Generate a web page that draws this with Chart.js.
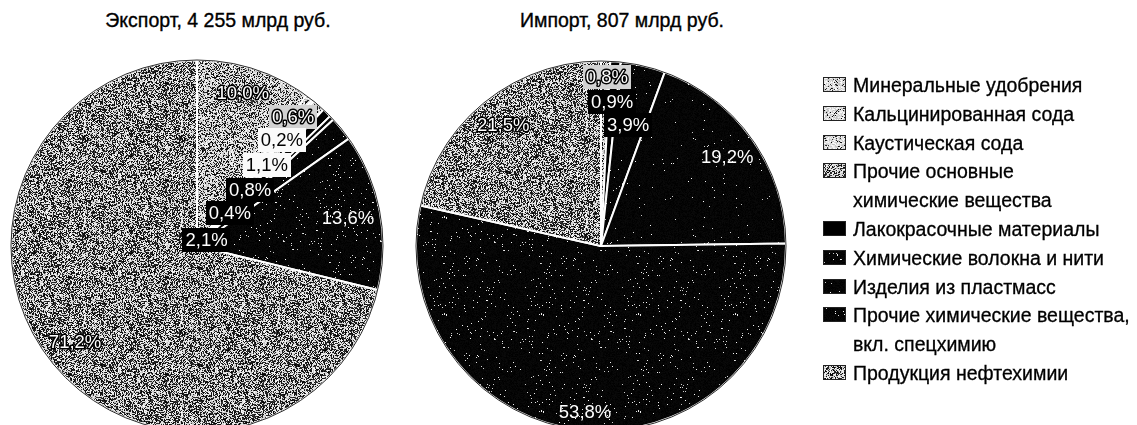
<!DOCTYPE html>
<html lang="ru">
<head>
<meta charset="utf-8">
<title>Экспорт и импорт химической продукции</title>
<script src="https://cdn.jsdelivr.net/npm/chart.js@4.4.1/dist/chart.umd.min.js"></script>
<style>
  html, body { margin: 0; padding: 0; background: #fff; }
  body {
    width: 1137px; height: 425px; overflow: hidden; position: relative;
    font-family: "Liberation Sans", Arial, sans-serif; color: #000;
  }
  .title {
    position: absolute; top: 10px; width: 300px; text-align: center;
    font-size: 19.5px; line-height: 20px; white-space: nowrap;
    -webkit-text-stroke: 0.35px #000;
  }
  #pieExport { position: absolute; left: 10px; top: 59px; }
  #pieImport { position: absolute; left: 415px; top: 60px; }
  #legend { position: absolute; left: 823px; top: 71px; }
  .item { display: flex; align-items: flex-start; }
  .item canvas { margin-top: 6px; margin-right: 7px; flex: none; }
  .item span {
    font-size: 19.5px; line-height: 28.8px; white-space: pre;
    -webkit-text-stroke: 0.3px #000;
  }
</style>
</head>
<body>
<div class="title" style="left:68px">Экспорт, 4 255 млрд руб.</div>
<div class="title" style="left:472px">Импорт, 807 млрд руб.</div>
<canvas id="pieExport" width="374" height="374"></canvas>
<canvas id="pieImport" width="372" height="372"></canvas>
<div id="legend"></div>

<script>
// Product groups (legend order = slice order, clockwise from 12 o'clock)
const categories = [
  'Минеральные удобрения',
  'Кальцинированная сода',
  'Каустическая сода',
  'Прочие основные\nхимические вещества',
  'Лакокрасочные материалы',
  'Химические волокна и нити',
  'Изделия из пластмасс',
  'Прочие химические вещества,\nвкл. спецхимию',
  'Продукция нефтехимии'
];

// Shares, %
const exportShares = [10.0, 0.6, 0.2, 1.1, 0.8, 0.4, 2.1, 13.6, 71.2];
const importShares = [0, 0, 0, 0.8, 0.9, 3.9, 19.2, 53.8, 21.5];

// Halftone density per group: share of light dots in the fill
const sliceTone  = [0.64, 0.70, 0.78, 0.70, 0.0, 0.01, 0.005, 0.02, 0.52];
const legendTone = [0.90, 0.88, 0.90, 0.60, 0.0, 0.03, 0.02, 0.02, 0.55];

// Label placement inside each pie: [angle from 12 o'clock, deg; distance as share of radius; style]
const exportLabelPlaces = [
  [16.6, 0.86, 'halo'], [36.7, 0.865, 'greybox'], [38.7, 0.73, 'box'], [40.8, 0.575, 'box'],
  [43.4, 0.415, 'darkbox'], [45.0, 0.25, 'darkbox'], [59.0, 0.06, 'darkbox'],
  [79.5, 0.826, 'plain'], [231.8, 0.834, 'halo']
];
const importLabelPlaces = [
  null, null, null,
  [2.0, 0.914, 'greybox'], [4.4, 0.78, 'darkbox'], [12.6, 0.67, 'darkbox'],
  [54.8, 0.835, 'plain'], [185.5, 0.9, 'plain'], [321.0, 0.84, 'halo']
];

// Deterministic stippled fill, like a printed halftone
function stipple(pLight, seed) {
  const size = 97;
  const c = document.createElement('canvas');
  c.width = c.height = size;
  const g = c.getContext('2d');
  const img = g.createImageData(size, size);
  let s = seed >>> 0;
  const next = () => { s = (Math.imul(s, 1664525) + 1013904223) >>> 0; return s / 4294967296; };
  const mid = pLight > 0.2;
  for (let i = 0; i < size * size; i++) {
    const r = next();
    const t = next();
    const v = r < pLight ? 190 + t * 65 : (mid ? t * 60 : t * 10);
    img.data[i * 4] = img.data[i * 4 + 1] = img.data[i * 4 + 2] = v;
    img.data[i * 4 + 3] = 255;
  }
  g.putImageData(img, 0, 0);
  return g.createPattern(c, 'repeat');
}

function fillFor(tone, seed) {
  return tone <= 0 ? '#000' : stipple(tone, seed);
}
const sliceFills = sliceTone.map((t, i) => fillFor(t, 1234 + i * 977));

function fmt(v) { return v.toFixed(1).replace('.', ',') + '%'; }

// Value labels drawn at the configured polar spots of each pie
const valueLabels = {
  id: 'valueLabels',
  afterDatasetsDraw(chart, args, opts) {
    const ctx = chart.ctx;
    const meta = chart.getDatasetMeta(0);
    const values = chart.data.datasets[0].data;
    const first = meta.data[0];
    // thin dark rim around the disc
    ctx.save();
    ctx.beginPath();
    ctx.arc(first.x, first.y, first.outerRadius, 0, Math.PI * 2);
    ctx.lineWidth = 1;
    ctx.strokeStyle = '#2a2a2a';
    ctx.stroke();
    ctx.restore();

    ctx.save();
    ctx.font = '18.5px "Liberation Sans", Arial, sans-serif';
    ctx.textAlign = 'center';
    ctx.textBaseline = 'middle';
    meta.data.forEach((arc, i) => {
      const place = opts.places[i];
      if (!place || !values[i]) return;
      const a = place[0] * Math.PI / 180;
      const k = place[1];
      const x = arc.x + Math.sin(a) * arc.outerRadius * k;
      const y = arc.y - Math.cos(a) * arc.outerRadius * k;
      const text = fmt(values[i]);
      const w = ctx.measureText(text).width;
      const style = place[2];
      if (style === 'box' || style === 'greybox' || style === 'darkbox') {
        ctx.fillStyle = style === 'box' ? '#fafafa' : style === 'greybox' ? '#d2d2d2' : '#000';
        ctx.fillRect(Math.round(x - w / 2 - 3), Math.round(y - 12), Math.round(w + 6), 24);
      }
      if (style === 'halo' || style === 'greybox') {
        ctx.lineWidth = 3;
        ctx.lineJoin = 'round';
        ctx.strokeStyle = '#000';
        ctx.strokeText(text, x, y + 1);
        ctx.fillStyle = '#fff';
      } else if (style === 'box') {
        ctx.fillStyle = '#000';
      } else {
        ctx.fillStyle = '#fff';
      }
      ctx.fillText(text, x, y + 1);
    });
    ctx.restore();
  }
};

function makePie(id, shares, places) {
  return new Chart(document.getElementById(id), {
    type: 'pie',
    data: {
      labels: categories.map(c => c.replace('\n', ' ')),
      datasets: [{
        data: shares,
        backgroundColor: sliceFills,
        borderColor: '#fff',
        borderWidth: 2
      }]
    },
    options: {
      responsive: false,
      animation: false,
      devicePixelRatio: 1,
      layout: { padding: 0 },
      plugins: {
        legend: { display: false },
        tooltip: { enabled: false },
        valueLabels: { places }
      }
    },
    plugins: [valueLabels]
  });
}

makePie('pieExport', exportShares, exportLabelPlaces);
makePie('pieImport', importShares, importLabelPlaces);

// Shared legend
const legend = document.getElementById('legend');
categories.forEach((name, i) => {
  const item = document.createElement('div');
  item.className = 'item';
  const sw = document.createElement('canvas');
  sw.width = 23; sw.height = 15;
  const g = sw.getContext('2d');
  g.fillStyle = fillFor(legendTone[i], 4321 + i * 313);
  g.fillRect(0, 0, 23, 15);
  g.strokeStyle = '#222';
  g.lineWidth = 1;
  g.strokeRect(0.5, 0.5, 22, 14);
  const label = document.createElement('span');
  label.textContent = name;
  item.appendChild(sw);
  item.appendChild(label);
  legend.appendChild(item);
});
</script>
</body>
</html>
